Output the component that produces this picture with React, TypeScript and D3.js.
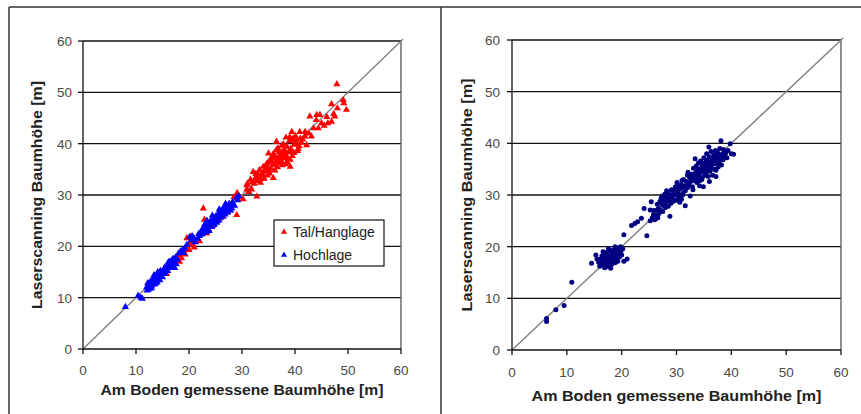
import React from "react";
import * as d3 from "d3";

const xTicks = [0, 10, 20, 30, 40, 50, 60];
const yTicks = [0, 10, 20, 30, 40, 50, 60];
const xTitle = "Am Boden gemessene Baumhöhe [m]";
const yTitle = "Laserscanning Baumhöhe [m]";
const legendLabels = ["Tal/Hanglage", "Hochlage"];

// Left chart: Tal/Hanglage (red triangles)
const talHanglage: [number, number][] = [
  [47.9,51.6],[49.1,48.5],[49.2,47.9],[49.7,46.6],[48.0,46.9],[46.9,47.7],[47.5,45.3],[46.9,44.3],[46.2,44.0],[45.0,44.0],
  [44.7,45.6],[44.1,45.6],[42.8,45.3],[44.4,43.0],[43.5,43.0],[45.5,43.5],[43.1,41.4],[41.9,42.3],[41.9,41.4],[40.9,42.3],
  [42.2,39.7],[39.4,42.3],[39.6,41.0],[40.3,40.6],[40.8,39.5],[41.2,40.2],[39.9,39.8],[39.2,39.0],[40.5,38.6],[39.8,38.2],
  [38.9,40.5],[38.5,39.4],[38.0,38.8],[37.6,38.4],[38.4,37.5],[39.1,36.9],[39.1,35.5],[38.6,36.3],[37.9,37.2],[37.2,37.9],
  [36.5,40.4],[36.8,39.1],[35.9,38.0],[35.0,38.1],[35.9,37.1],[36.4,36.5],[37.0,36.2],[37.6,35.8],[36.7,35.4],[35.8,35.9],
  [35.3,36.6],[34.6,36.0],[34.0,35.5],[34.3,34.6],[35.1,34.8],[35.9,33.3],[35.5,35.2],[34.8,33.8],[33.9,33.9],[33.3,34.9],
  [32.1,34.5],[32.7,33.6],[32.9,32.7],[33.6,33.1],[34.2,33.2],[32.3,32.2],[31.6,33.0],[30.9,31.9],[31.8,31.1],[32.8,29.7],
  [30.9,31.1],[31.3,30.6],[30.2,29.2],[29.1,30.4],[29.4,29.6],[29.0,26.1],[37.3,37.0],[38.2,36.0],[39.5,37.6],[40.1,41.5],
  [36.2,37.6],[34.4,35.0],[33.0,34.0],[32.5,33.2],[38.8,38.3],[37.5,39.6],[36.0,36.0],[35.4,36.8],[41.5,40.8],[42.6,42.0],
  [40.0,40.0],[44.0,44.6],[46.0,45.2],[47.3,45.8],[33.5,32.4],[31.0,32.2],[38.3,41.2],[39.7,40.6],[37.0,38.4],[36.2,34.8],
  [37.8,39.9],[38.7,37.0],[39.3,38.4],[40.6,39.0],[37.4,36.6],[36.5,38.8],[35.6,37.4],[34.7,35.4],[33.8,34.3],[32.6,34.1],
  [34.9,36.3],[36.9,37.2],[38.1,38.1],[39.0,41.3],[41.0,41.0],[31.9,32.5],[33.2,33.4],[35.2,34.2],
  [22.7,27.4],[22.9,25.2],[22.1,22.5],[19.6,21.6],[19.7,19.7],[20.2,20.6],[18.6,17.7],[15.8,14.6],[23.3,22.5],[23.8,23.1],
  [20.5,21.0],[20.8,20.2],[21.0,19.8],[20.0,19.3],[19.3,18.4],[19.0,19.0],[18.0,18.2],[17.5,17.3],[16.6,16.9],[18.2,17.0],
  [24.5,24.0],[25.2,24.8],[24.0,24.3],[26.0,26.4],[26.5,25.8],[27.8,27.0],[28.2,28.0],[28.9,29.3],[28.5,29.6],[27.2,26.6],
  [25.7,25.3],[24.8,25.6],[23.0,23.9],[20.3,21.9],[22.0,21.0],[21.2,21.0],[20.6,20.4],[19.9,20.2]
];

// Left chart: Hochlage (blue triangles)
const hochlage: [number, number][] = [
  [8.0,8.2],[10.4,10.4],[10.9,10.0],[11.2,9.8],[12.0,12.0],[12.2,12.8],[12.4,11.6],[12.6,12.4],[12.8,13.2],[12.1,11.4],
  [13.0,12.2],[13.2,13.0],[13.3,13.8],[13.5,12.6],[13.7,13.4],[13.9,14.2],[14.0,13.0],[14.2,13.8],[14.4,14.6],[14.5,13.4],
  [14.7,14.2],[14.9,15.0],[15.0,14.0],[15.2,14.6],[15.3,15.4],[15.5,14.8],[15.6,15.6],[15.8,16.0],[14.1,15.0],[13.4,14.4],
  [12.5,12.9],[13.8,12.8],[16.0,15.2],[16.2,16.4],[16.4,15.8],[16.5,16.8],[16.7,17.2],[16.9,16.2],[17.0,17.6],[17.2,16.8],
  [17.3,15.8],[17.5,17.9],[17.6,16.5],[17.8,17.4],[18.0,18.6],[16.8,16.0],[16.3,17.0],[18.4,19.0],[18.8,19.3],[19.2,19.6],
  [19.0,18.7],[19.6,20.3],[20.1,21.8],[20.6,22.0],[20.9,21.6],[20.4,21.2],[21.2,20.8],[21.6,21.5],[22.0,22.0],[22.2,22.8],
  [22.4,22.3],[22.6,23.4],[22.8,22.6],[23.0,23.2],[23.1,24.0],[23.3,22.8],[23.5,23.6],[23.6,24.4],[23.8,23.0],[24.0,24.2],
  [24.1,25.0],[24.3,23.8],[24.5,24.6],[24.6,25.4],[24.8,24.2],[25.0,25.0],[25.1,25.9],[25.2,24.6],[25.4,25.4],[25.5,26.3],
  [25.6,25.0],[25.8,26.0],[25.9,26.8],[26.0,25.6],[26.2,26.4],[26.3,27.2],[26.4,25.8],[26.6,26.8],[26.7,27.6],[26.8,26.2],
  [27.0,27.0],[27.1,28.0],[27.3,26.6],[27.4,27.6],[27.6,28.3],[27.8,27.0],[27.9,28.0],[28.1,27.4],[28.2,28.6],[28.6,27.9],
  [29.0,29.5],[29.2,29.0],[29.4,29.8],[21.8,22.4],[22.9,24.2],[24.4,26.0],[25.7,27.2],[23.4,25.0],[26.9,28.3],[27.6,27.4],
  [12.9,11.8],[14.6,15.2],[15.4,15.9],[16.1,16.9],[13.6,13.9],[17.1,17.1],[24.9,25.3],[26.1,26.9]
];

// Right chart (navy dots)
const rightPoints: [number, number][] = [
  [6.3,6.1],[6.3,5.5],[8.0,7.8],[9.5,8.6],[10.9,13.1],
  [14.5,16.8],[15.3,18.4],[15.8,17.0],[16.0,16.2],[16.2,17.6],[16.4,18.2],[16.5,16.6],[16.7,17.2],[16.8,18.8],[16.9,15.9],
  [17.0,17.8],[17.1,16.4],[17.2,18.4],[17.3,17.0],[17.4,19.0],[17.5,16.2],[17.6,17.6],[17.7,18.2],[17.8,16.8],[17.9,19.2],
  [18.0,17.4],[18.1,18.0],[18.2,16.6],[18.3,18.6],[18.4,17.2],[18.5,19.4],[18.6,17.8],[18.7,18.4],[18.8,16.9],[18.9,19.0],
  [19.0,17.6],[19.1,18.2],[19.2,19.6],[19.3,17.2],[19.4,18.8],[19.5,19.8],[19.6,18.0],[19.7,18.6],[19.8,20.0],[19.9,19.2],
  [20.0,18.4],[20.2,19.6],[17.0,16.0],[16.3,17.0],[18.0,15.8],[17.6,19.6],[18.8,20.0],[20.4,22.3],[20.4,17.2],[21.0,17.6],
  [15.5,17.6],[16.6,19.0],
  [21.8,24.1],[22.4,24.5],[23.6,25.5],[24.1,27.4],[24.6,22.1],[25.2,27.1],[25.4,28.7],[25.2,25.0],[25.6,25.6],[25.8,26.2],
  [26.0,25.2],[26.2,27.0],[26.4,26.0],[26.5,28.2],[26.7,27.4],[26.8,26.4],[27.0,28.8],[27.1,27.0],[27.2,29.4],[27.4,28.0],
  [27.5,26.8],[27.6,29.0],[27.8,28.4],[27.9,30.2],[28.0,27.6],[28.1,29.6],[28.3,28.8],[28.4,30.6],[28.5,27.8],[28.6,29.2],
  [28.8,25.9],[28.8,30.0],[29.0,28.4],[29.1,31.0],[29.2,29.6],[29.4,28.8],[29.5,30.4],[29.6,29.0],[29.8,31.6],[29.9,30.0],
  [30.0,29.0],[30.1,32.4],[30.2,30.6],[30.4,29.4],[30.5,31.2],[30.6,30.0],[30.8,32.0],[30.9,29.2],[31.0,31.4],[31.2,30.4],
  [31.3,33.0],[31.4,31.8],[31.6,27.9],[31.6,30.8],[31.8,32.6],[32.0,31.4],[32.1,34.4],[32.2,32.0],[32.4,33.4],[32.5,29.8],
  [32.6,32.6],[32.8,34.0],[32.9,31.6],[33.0,33.2],[33.1,35.2],[33.2,32.8],[33.4,37.0],[33.4,34.2],[33.5,33.0],[33.6,35.6],
  [33.7,32.4],[33.8,34.8],[33.9,33.6],[34.0,36.2],[34.1,34.0],[34.2,35.0],[34.3,32.8],[34.4,36.6],[34.5,34.4],[34.6,35.4],
  [34.7,33.4],[34.8,36.0],[34.9,31.6],[34.9,34.8],[35.0,37.2],[35.1,35.6],[35.2,33.8],[35.3,36.4],[35.4,34.4],[35.5,38.0],
  [35.6,35.0],[35.7,36.8],[35.8,33.6],[35.9,39.3],[35.9,35.8],[36.0,37.4],[36.1,34.6],[36.2,36.2],[36.3,38.4],[36.4,35.2],
  [36.5,37.0],[36.6,33.8],[36.7,36.0],[36.8,37.8],[36.9,35.0],[37.0,36.6],[37.1,38.6],[37.2,34.8],[37.3,37.2],[37.4,36.0],
  [37.5,38.2],[37.6,35.4],[37.7,37.6],[37.8,36.4],[37.9,39.0],[38.0,37.0],[38.1,40.5],[38.2,35.8],[38.4,38.0],[38.5,36.8],
  [38.6,38.8],[38.8,37.4],[39.0,38.2],[39.2,37.2],[39.4,38.6],[39.8,39.9],[40.0,38.0],[40.4,37.9],[32.0,33.8],[31.0,32.8],
  [29.6,31.0],[28.2,30.8],[27.4,29.8],[26.2,25.4],[25.8,27.0],[30.6,28.6],[33.0,31.0],[34.2,31.8],[36.0,32.6],[37.2,33.6],
  [22.9,24.8],[26.6,25.6],[27.3,28.4],[29.3,30.2],[30.3,31.6],[31.1,30.0],[33.3,33.8],[34.6,33.0],[35.2,35.0],[36.6,36.6],
  [37.6,37.0],[35.7,35.4],[34.0,34.6],[32.7,33.0],[36.9,36.2],[38.3,37.6]
];

type Pt = [number, number];

interface PanelProps {
  left: number; right: number; top: number; bottom: number;
  yLabelX: number; xLabelY: number; xTitleY: number; xTitleLen: number;
  yTitleX: number; yTitleLen: number;
}

const font = "'Liberation Sans', Arial, sans-serif";

function Frame({ p, children }: { p: PanelProps; children?: React.ReactNode }) {
  const x = d3.scaleLinear().domain([0, 60]).range([p.left, p.right]);
  const y = d3.scaleLinear().domain([0, 60]).range([p.bottom, p.top]);
  const xc = (p.left + p.right) / 2;
  const yc = (p.top + p.bottom) / 2;
  return (
    <g>
      {yTicks.filter(t => t > 0).map(t => (
        <line key={"g" + t} x1={p.left} x2={p.right} y1={y(t)} y2={y(t)} stroke="#111" strokeWidth={1.3} />
      ))}
      <line x1={p.right} x2={p.right} y1={p.top} y2={p.bottom} stroke="#555" strokeWidth={1.3} />
      <line x1={x(0)} y1={y(0)} x2={x(60.4)} y2={y(60.4)} stroke="#808080" strokeWidth={1.4} />
      {children}
      <line x1={p.left} x2={p.left} y1={p.top} y2={p.bottom} stroke="#111" strokeWidth={1.3} />
      <line x1={p.left} x2={p.right} y1={p.bottom} y2={p.bottom} stroke="#111" strokeWidth={1.3} />
      {yTicks.map(t => (
        <g key={"y" + t}>
          <line x1={p.left - 5} x2={p.left} y1={y(t)} y2={y(t)} stroke="#111" strokeWidth={1.3} />
          <text x={p.yLabelX} y={y(t)} dy="0.36em" textAnchor="end" fontSize={13.5} fill="#4a4a4a" fontFamily={font}>{t}</text>
        </g>
      ))}
      {xTicks.map(t => (
        <g key={"x" + t}>
          <line x1={x(t)} x2={x(t)} y1={p.bottom} y2={p.bottom + 5} stroke="#111" strokeWidth={1.3} />
          <text x={x(t)} y={p.xLabelY} dy="0.36em" textAnchor="middle" fontSize={13.5} fill="#4a4a4a" fontFamily={font}>{t}</text>
        </g>
      ))}
      <text x={xc} y={p.xTitleY} textAnchor="middle" fontSize={15} fontWeight="bold" fill="#222" fontFamily={font}
        textLength={p.xTitleLen} lengthAdjust="spacingAndGlyphs">{xTitle}</text>
      <text transform={`translate(${p.yTitleX},${yc}) rotate(-90)`} dy="0.36em" textAnchor="middle" fontSize={15} fontWeight="bold" fill="#222" fontFamily={font}
        textLength={p.yTitleLen} lengthAdjust="spacingAndGlyphs">{yTitle}</text>
    </g>
  );
}

const leftP: PanelProps = { left: 83, right: 401, top: 41, bottom: 349, yLabelX: 72, xLabelY: 370, xTitleY: 395, xTitleLen: 283, yTitleX: 37, yTitleLen: 228 };
const rightP: PanelProps = { left: 512, right: 841, top: 40, bottom: 350, yLabelX: 500, xLabelY: 372, xTitleY: 401, xTitleLen: 290, yTitleX: 467, yTitleLen: 233 };

export default function App() {
  const xl = d3.scaleLinear().domain([0, 60]).range([leftP.left, leftP.right]);
  const yl = d3.scaleLinear().domain([0, 60]).range([leftP.bottom, leftP.top]);
  const xr = d3.scaleLinear().domain([0, 60]).range([rightP.left, rightP.right]);
  const yr = d3.scaleLinear().domain([0, 60]).range([rightP.bottom, rightP.top]);
  const tri = d3.symbol(d3.symbolTriangle, 22)() as string;
  const triLeg = d3.symbol(d3.symbolTriangle, 16)() as string;
  return (
    <svg width={861} height={414} style={{ position: "absolute", left: 0, top: 0, background: "#fff" }}>
      <rect x={0} y={0} width={861} height={414} fill="#fff" />
      <line x1={9} x2={861} y1={7} y2={7} stroke="#333" strokeWidth={1.5} />
      <line x1={9} x2={9} y1={7} y2={414} stroke="#333" strokeWidth={1.5} />
      <line x1={441} x2={441} y1={7} y2={414} stroke="#333" strokeWidth={1.5} />

      <Frame p={leftP}>
        <g>
          {talHanglage.map((d: Pt, i) => (
            <path key={"r" + i} d={tri} transform={`translate(${xl(d[0])},${yl(d[1])})`} fill="#ff0000" />
          ))}
          {hochlage.map((d: Pt, i) => (
            <path key={"b" + i} d={tri} transform={`translate(${xl(d[0])},${yl(d[1])})`} fill="#0000ff" />
          ))}
        </g>
      </Frame>
      <g>
        <rect x={274} y={220} width={110} height={46} fill="#fff" stroke="#111" strokeWidth={1.2} />
        <path d={triLeg} transform="translate(284,232)" fill="#ff0000" />
        <text x={293} y={232} dy="0.36em" fontSize={14} fill="#222" fontFamily={font}>{legendLabels[0]}</text>
        <path d={triLeg} transform="translate(284,255)" fill="#0000ff" />
        <text x={293} y={255} dy="0.36em" fontSize={14} fill="#222" fontFamily={font}>{legendLabels[1]}</text>
      </g>

      <Frame p={rightP}>
        <g>
          {rightPoints.map((d: Pt, i) => (
            <circle key={"n" + i} cx={xr(d[0])} cy={yr(d[1])} r={2.5} fill="#000080" />
          ))}
        </g>
      </Frame>
    </svg>
  );
}
